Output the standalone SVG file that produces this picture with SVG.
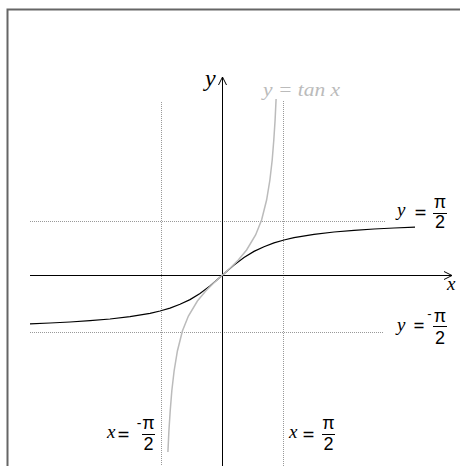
<svg xmlns="http://www.w3.org/2000/svg" width="460" height="466" viewBox="0 0 460 466">
<style>
.frame{fill:none;stroke:#666;stroke-width:2}
.axis{fill:none;stroke:#000;stroke-width:1}
.dot{fill:none;stroke:#999;stroke-width:1;stroke-dasharray:1 1}
.atan{fill:none;stroke:#000;stroke-width:1.2}
.tan{fill:none;stroke:#bbb;stroke-width:1.5}
.m{font-family:"Liberation Serif","DejaVu Serif",serif;font-style:italic;font-size:19px;fill:#000}
.eq{font-family:"DejaVu Sans","Liberation Sans",sans-serif;font-size:17px;fill:#000}
.s{font-family:"Liberation Sans","DejaVu Sans",sans-serif;font-size:18px;fill:#000;text-anchor:middle}
.bar{stroke:#000;stroke-width:1}
</style>
<rect width="460" height="466" fill="#fff"/>
<path class="frame" d="M7.5 466V9.5H460"/>
<g id="connectors">
<path class="dot" d="M30 221.5H386M30 332.5H384M161.5 102V466M283.5 101V466"/>
<path class="axis" d="M30 275.5H452M444 271.5L452 275.5L444 279.5"/>
<path class="axis" d="M222.5 466V77M218.5 85L222.5 77L226.5 85"/>
<path class="atan" d="M30 323.8L50 323 70 322 90 320.7 110 319 130 316.7 150 313.3 160 311 170 308.1 180 304.3 190 299.6 200 293.5 210 285.9 216 280.8 222 275.5 228 270.2 234 265.1 244 257.5 254 251.4 264 246.7 274 242.9 284 240 294 237.7 314 234.3 334 232 354 230.3 374 229 394 228 415 227.2"/>
<path class="tan" d="M276.1 99L275.9 103 275.1 120 273.8 140 272.2 160 269.9 180 266.6 200 261.6 220 255.6 235 246.6 250 238.3 260 230.3 268 222 275.5 213.7 283 205.7 291 197.4 301 188.4 316 182.4 331 177.4 351 174.1 371 171.8 391 170.2 411 168.9 431 168.1 448 167.9 452"/>
</g>
<g id="label-y"><text x="205" y="86" style="font-family:'Liberation Serif','DejaVu Serif',serif;font-style:italic;font-size:24px">y</text></g>
<g id="label-x"><text x="447" y="290" style="font-family:'Liberation Serif','DejaVu Serif',serif;font-style:italic;font-size:19px">x</text></g>
<g id="label-tan"><text x="263" y="96" textLength="77" lengthAdjust="spacingAndGlyphs" style="font-family:'Liberation Serif','DejaVu Serif',serif;font-style:italic;font-size:18px;fill:#bbb">y = tan x</text></g>
<g id="label-ypi2">
<text class="m" x="397" y="216">y</text>
<text class="eq" x="414" y="218" textLength="13" lengthAdjust="spacingAndGlyphs">=</text>
<text class="s" x="440" y="208">π</text>
<line class="bar" x1="433" y1="213.5" x2="447" y2="213.5"/>
<text class="s" x="440" y="228">2</text>
</g>
<g id="label-ympi2">
<text class="m" x="397" y="331">y</text>
<text class="eq" x="413" y="331" textLength="12" lengthAdjust="spacingAndGlyphs">=</text>
<text class="s" x="429.5" y="318" style="font-size:13px">-</text>
<text class="s" x="440" y="322">π</text>
<line class="bar" x1="433" y1="326.5" x2="447" y2="326.5"/>
<text class="s" x="440" y="344">2</text>
</g>
<g id="label-xmpi2">
<text class="m" x="107" y="438">x</text>
<text class="eq" x="117" y="440" textLength="13" lengthAdjust="spacingAndGlyphs">=</text>
<text class="s" x="139" y="428" style="font-size:14px">-</text>
<text class="s" x="148.5" y="429">π</text>
<line class="bar" x1="142" y1="434.5" x2="155" y2="434.5"/>
<text class="s" x="148.5" y="450">2</text>
</g>
<g id="label-xpi2">
<text class="m" x="289" y="438">x</text>
<text class="eq" x="302" y="440" textLength="13" lengthAdjust="spacingAndGlyphs">=</text>
<text class="s" x="328.5" y="429">π</text>
<line class="bar" x1="322" y1="434.5" x2="335" y2="434.5"/>
<text class="s" x="328.5" y="450">2</text>
</g>
</svg>
